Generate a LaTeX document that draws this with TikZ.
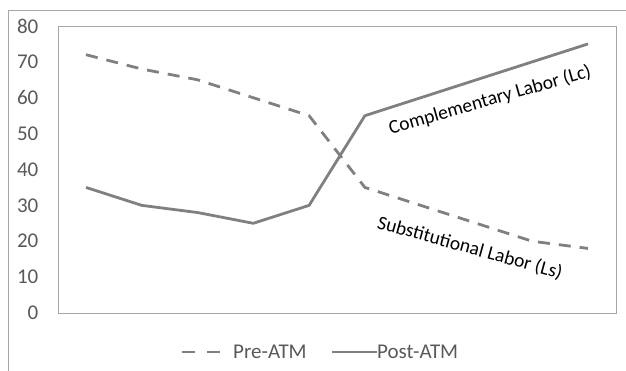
\documentclass[tikz,border=0pt]{standalone}
\usepackage{fontspec}
\setmainfont{Carlito}
\definecolor{txt}{HTML}{595959}
\definecolor{ser}{HTML}{808080}
\definecolor{frm}{HTML}{A6A6A6}
\begin{document}
\begin{tikzpicture}[x=1pt,y=1pt,
  tick/.style={anchor=east,text=txt,font=\fontsize{21}{24}\selectfont,inner sep=0pt},
  lab/.style={text=black,font=\fontsize{19.5}{22}\selectfont,inner sep=0pt},
  serie/.style={draw=ser,line width=2.8pt},
  pre/.style={serie,dash pattern=on 12pt off 9pt},
  post/.style={serie,line join=round}]
\useasboundingbox (0,0) rectangle (626,371);
% outer frame (partial)
\draw[frm,line width=0.9pt] (8.5,0) -- (8.5,361) -- (626,361);
% plot area
\draw[frm,line width=0.9pt] (58,58) rectangle (616,345);
% ticks
\foreach \v in {0,10,...,80}{
  \node[tick] (t\v) at (38.5,{58+3.5875*\v}) {\v};
}
% data
\foreach \x [count=\i] in {86,141.8,197.6,253.3,309.1,364.9,420.7,476.4,532.2,588}{
  \coordinate (p\i) at (\x,0);
}
\foreach \v [count=\i] in {72,68,65,60,55,35,30,25,20,18}{
  \coordinate (a\i) at ([yshift={58pt+3.5875pt*\v}]p\i);
}
\foreach \v [count=\i] in {35,30,28,25,30,55,60,65,70,75}{
  \coordinate (b\i) at ([yshift={58pt+3.5875pt*\v}]p\i);
}
\draw[pre] (a1) -- (a2) -- (a3) -- (a4) -- (a5) -- (a6) -- (a7) -- (a8) -- (a9) -- (a10);
\draw[post] (b1) -- (b2) -- (b3) -- (b4) -- (b5) -- (b6) -- (b7) -- (b8) -- (b9) -- (b10);
% curve labels
\node[lab,rotate=16] (lc) at (490,271) {Complementary Labor (Lc)};
\node[lab,rotate=-15.5] (ls) at (470,123) {Substitutional Labor (Ls)};
% legend
\coordinate (l1a) at (182,19);
\coordinate (l1b) at (221,19);
\coordinate (l2a) at (332,19);
\coordinate (l2b) at (377,19);
\draw[serie,dash pattern=on 13pt off 12pt] (l1a) -- (l1b);
\draw[serie] (l2a) -- (l2b);
\node[tick,anchor=west] (lg1) at (233,19) {Pre-ATM};
\node[tick,anchor=west] (lg2) at (377,19) {Post-ATM};
\end{tikzpicture}
\end{document}
